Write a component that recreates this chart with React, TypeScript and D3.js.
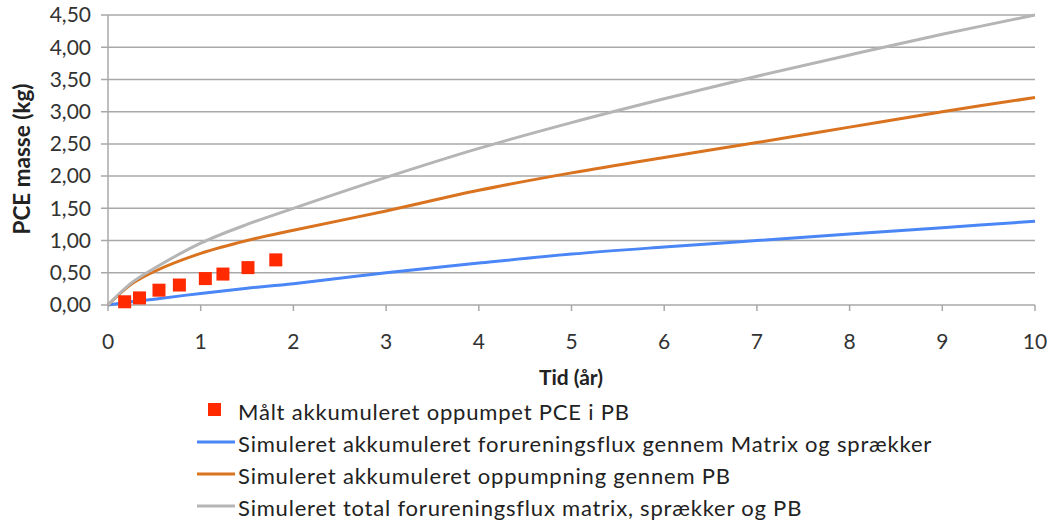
import React from "react";
import * as d3 from "d3";

const measuredT = [0.18, 0.34, 0.55, 0.77, 1.05, 1.24, 1.51, 1.81];
const measuredM = [0.05, 0.11, 0.23, 0.31, 0.41, 0.48, 0.58, 0.7];

const simT = [0, 0.25, 0.5, 1, 1.5, 2, 3, 4, 5, 6, 7, 8, 9, 10];
const matrixFlux = [0, 0.05, 0.09, 0.18, 0.26, 0.33, 0.5, 0.65, 0.79, 0.9, 1.0, 1.1, 1.2, 1.3];
const pumping = [0, 0.32, 0.52, 0.8, 1.0, 1.16, 1.46, 1.78, 2.05, 2.29, 2.52, 2.76, 3.0, 3.22];
const totalFlux = [0, 0.34, 0.57, 0.96, 1.25, 1.5, 1.98, 2.43, 2.83, 3.2, 3.55, 3.88, 4.2, 4.5];

const xTicks = [0, 1, 2, 3, 4, 5, 6, 7, 8, 9, 10];
const yTicks = [0, 0.5, 1, 1.5, 2, 2.5, 3, 3.5, 4, 4.5];

const legendLabels = [
  "Målt akkumuleret oppumpet PCE i PB",
  "Simuleret akkumuleret forureningsflux gennem Matrix og sprækker",
  "Simuleret akkumuleret oppumpning gennem PB",
  "Simuleret total forureningsflux matrix, sprækker og PB",
];

const W = 1052;
const H = 521;
const FONT = "Lato, 'Open Sans', sans-serif";

export default function App() {
  const x = d3.scaleLinear().domain([0, 10]).range([108, 1035]);
  const y = d3.scaleLinear().domain([0, 4.5]).range([305, 15]);
  const line = d3
    .line<number>()
    .x((_, i) => x(simT[i]))
    .y((d) => y(d))
    .curve(d3.curveCatmullRom.alpha(0.5));

  const series = [
    { values: matrixFlux, color: "#4a86f5" },
    { values: pumping, color: "#d9731f" },
    { values: totalFlux, color: "#b5b5b5" },
  ];
  const grid = "#a8a8a8";
  const fmt = (v: number) => v.toFixed(2).replace(".", ",");

  return (
    <svg width={W} height={H} style={{ position: "absolute", left: 0, top: 0, background: "#fff" }} fontFamily={FONT}>
      {yTicks.map((t) => (
        <line key={"g" + t} x1={101} x2={1035} y1={y(t)} y2={y(t)} stroke={grid} strokeWidth={1.5} />
      ))}
      <line x1={108} x2={108} y1={15} y2={305} stroke={grid} strokeWidth={1.5} />
      {xTicks.map((t) => (
        <line key={"xt" + t} x1={x(t)} x2={x(t)} y1={305} y2={311} stroke={grid} strokeWidth={1.5} />
      ))}
      {yTicks.map((t) => (
        <text key={"yl" + t} x={91} y={y(t)} dy="0.35em" textAnchor="end" fontSize={21} fill="#333">
          {fmt(t)}
        </text>
      ))}
      {xTicks.map((t) => (
        <text key={"xl" + t} x={x(t)} y={342} dy="0.35em" textAnchor="middle" fontSize={21} fill="#333">
          {t}
        </text>
      ))}
      <text x={571} y={378} dy="0.35em" textAnchor="middle" fontSize={21} fontWeight="bold" fill="#222">
        Tid (år)
      </text>
      <text transform={`translate(22,159) rotate(-90)`} dy="0.35em" textAnchor="middle" fontSize={22.5} fontWeight="bold" fill="#222">
        PCE masse (kg)
      </text>
      {series.map((s, i) => (
        <path key={"s" + i} d={line(s.values) || ""} fill="none" stroke={s.color} strokeWidth={3} />
      ))}
      {measuredT.map((t, i) => (
        <rect key={"m" + i} x={x(t) - 6.5} y={y(measuredM[i]) - 6.5} width={13} height={13} fill="#ff2a00" />
      ))}
      {/* legend */}
      <rect x={208} y={403} width={13} height={13} fill="#ff2a00" />
      {series.map((s, i) => (
        <line key={"ll" + i} x1={197} x2={235} y1={442 + i * 32} y2={442 + i * 32} stroke={s.color} strokeWidth={3} />
      ))}
      {legendLabels.map((l, i) => (
        <text key={"lt" + i} x={238} y={412 + i * 32} dy="0.35em" fontSize={22} letterSpacing={0.8} fill="#222">
          {l}
        </text>
      ))}
    </svg>
  );
}
